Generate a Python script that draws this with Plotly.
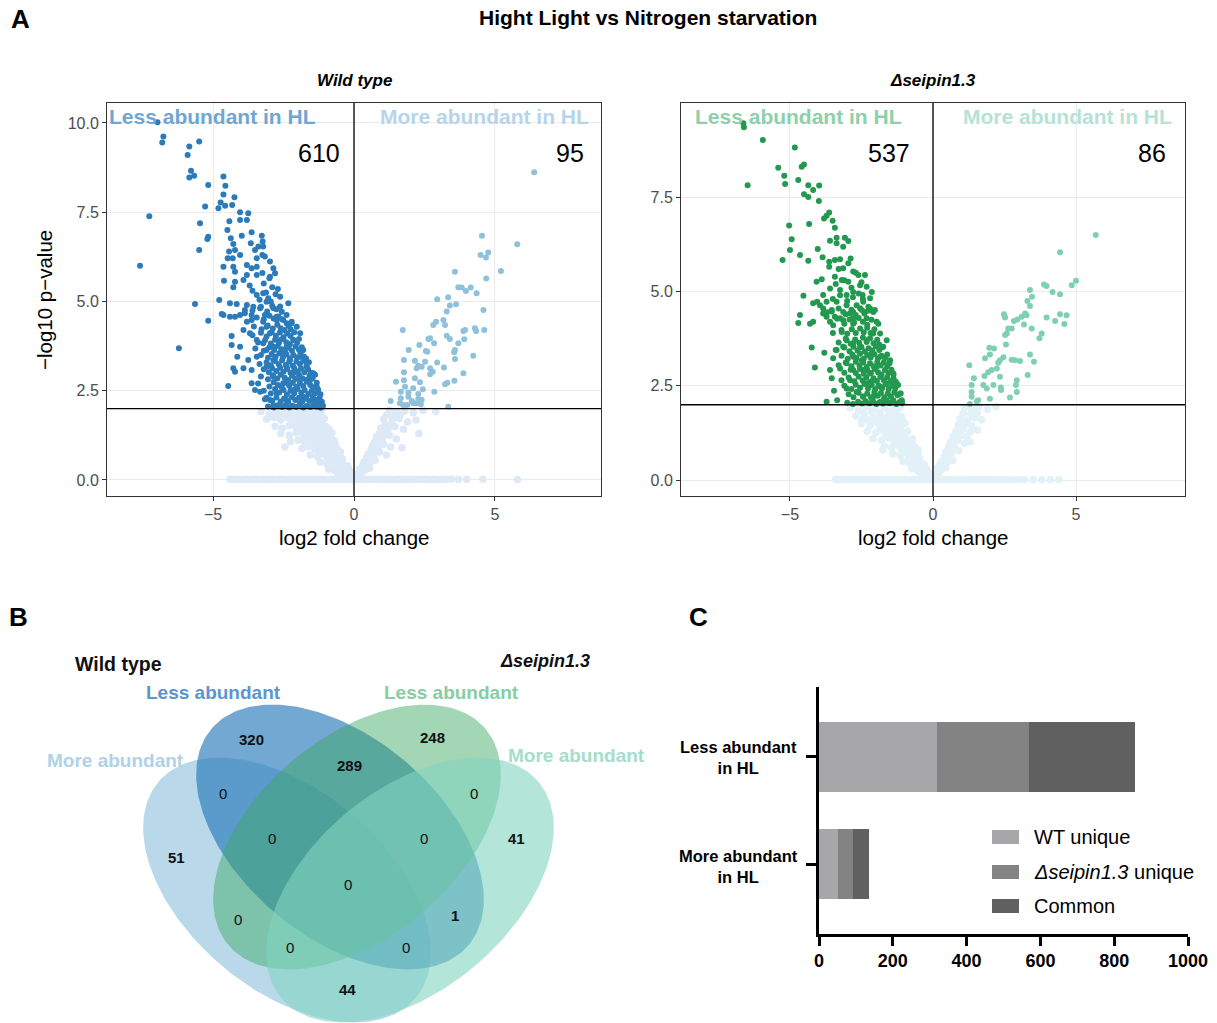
import numpy as np
import plotly.graph_objects as go

W, H = 1217, 1023
FONT = "Liberation Sans, Arial, sans-serif"

# ---------------- Panel A data ----------------
wt_down = [(-6.97,10.02),(-6.76,9.62),(-6.80,9.45),(-5.84,9.34),(-5.49,9.48),(-5.90,9.10),(-5.78,8.66),(-5.84,8.47),(-5.67,8.52),(-4.63,8.50),(-5.17,8.26),(-4.56,8.24),(-4.63,8.00),(-4.24,7.92),(-4.73,7.77),(-4.57,7.68),(-4.32,7.70),(-4.81,7.61),(-5.28,7.66),(-7.26,7.39),(-4.04,7.50),(-3.75,7.47),(-4.04,7.28),(-3.80,7.28),(-4.42,7.25),(-5.46,7.19),(-4.49,7.00),(-3.63,6.94),(-3.27,6.84),(-3.98,6.84),(-5.17,6.81),(-5.20,6.75),(-4.37,6.77),(-4.28,6.61),(-3.66,6.63),(-3.24,6.68),(-3.39,6.54),(-3.22,6.54),(-5.49,6.44),(-4.43,6.40),(-4.22,6.44),(-4.04,6.30),(-4.30,6.21),(-4.48,6.21),(-3.51,6.44),(-3.45,6.21),(-3.25,6.30),(-3.16,6.26),(-2.98,6.12),(-7.59,6.00),(-4.63,5.97),(-4.28,5.97),(-4.22,5.83),(-3.80,6.02),(-3.63,5.93),(-3.45,5.97),(-2.86,5.93),(-2.80,5.79),(-2.98,5.69),(-3.45,5.74),(-3.80,5.74),(-3.92,5.60),(-4.22,5.55),(-4.61,5.58),(-4.28,5.40),(-5.64,4.93),(-4.78,5.04),(-4.40,4.95),(-4.16,4.93),(-3.80,4.90),(-3.45,5.18),(-3.22,5.23),(-3.04,5.09),(-2.62,5.13),(-2.33,4.95),(-2.56,4.71),(-2.86,4.81),(-3.10,4.99),(-3.33,4.81),(-3.57,4.85),(-3.87,4.76),(-4.04,4.62),(-3.63,4.62),(-3.16,4.62),(-2.74,4.57),(-2.39,4.62),(-2.21,4.43),(-2.51,4.48),(-3.22,4.43),(-3.80,4.43),(-4.40,4.57),(-4.63,4.62),(-4.22,4.57),
(-5.17,4.46),(-6.21,3.69),(-4.46,2.63),(-4.69,4.65),(-3.87,4.67),(-3.63,4.48),(-4.34,4.03),(-4.34,3.78),(-4.04,3.73),(-4.14,3.45),(-4.28,3.13),(-4.22,3.03),(-3.92,3.13),(-3.75,3.36),(-3.63,2.71),(-3.51,2.52),(-3.33,2.47),(-3.16,2.26),(-3.63,3.08),(-3.45,3.45),(-3.92,4.20),(-3.69,4.11),(-3.45,3.92),(-3.22,3.83),(-2.98,4.11),(-3.10,4.29),(-2.74,4.48),(-2.39,4.39),(-2.21,4.39),(-2.03,4.29),(-1.91,4.11),(-2.15,3.92),(-2.39,3.73),(-2.62,3.55),(-2.86,3.36),(-3.10,3.17),(-2.86,2.89),(-2.51,2.71),(-2.15,2.52),(-1.80,2.33),(-1.44,2.24),(-1.21,2.15),(-1.56,2.80),(-1.32,2.61),(-1.68,3.17),(-1.91,3.45),(-1.80,3.64),(-1.44,2.99),(-2.39,3.17),(-2.15,2.99),(-2.74,2.43),(-2.98,2.24),(-2.39,2.24),(-1.91,2.15),(-2.86,2.10),(-1.32,2.05),(-1.91,2.80),(-2.27,3.36),(-2.62,3.92),(-2.86,3.73),(-3.10,3.64),
(-3.05,2.06),(-2.85,2.03),(-2.70,2.09),(-2.55,2.04),(-2.42,2.10),(-2.30,2.03),(-2.18,2.08),(-2.05,2.04),(-1.93,2.10),(-1.80,2.03),(-1.68,2.07),(-1.55,2.04),(-1.43,2.10),(-1.30,2.12),(-1.18,2.02),(-1.10,2.08),
(-3.10,2.30),(-2.90,2.22),(-2.75,2.31),(-2.60,2.20),(-2.48,2.28),(-2.33,2.19),(-2.20,2.32),(-2.08,2.24),(-1.95,2.30),(-1.83,2.20),(-1.70,2.28),(-1.58,2.21),(-1.46,2.33),(-1.35,2.24),(-1.22,2.30),(-1.14,2.19),
(-3.20,2.50),(-2.95,2.42),(-2.80,2.55),(-2.65,2.45),(-2.50,2.52),(-2.38,2.40),(-2.25,2.50),(-2.12,2.43),(-2.00,2.55),(-1.87,2.44),(-1.75,2.52),(-1.62,2.41),(-1.50,2.50),(-1.38,2.43),(-1.27,2.53),(-1.19,2.40),
(-3.40,2.70),(-3.00,2.62),(-2.85,2.74),(-2.70,2.66),(-2.56,2.60),(-2.43,2.73),(-2.30,2.64),(-2.17,2.72),(-2.04,2.61),(-1.92,2.70),(-1.80,2.63),(-1.67,2.75),(-1.55,2.66),(-1.43,2.60),(-1.32,2.72),
(-3.30,2.90),(-3.05,2.82),(-2.88,2.93),(-2.72,2.84),(-2.60,2.95),(-2.46,2.86),(-2.33,2.80),(-2.20,2.92),(-2.08,2.83),(-1.95,2.94),(-1.83,2.85),(-1.70,2.80),(-1.58,2.92),(-1.47,2.84),(-1.38,2.95),
(-3.20,3.10),(-3.02,3.02),(-2.90,3.12),(-2.75,3.05),(-2.62,3.14),(-2.50,3.03),(-2.37,3.11),(-2.25,3.00),(-2.12,3.13),(-2.00,3.04),(-1.88,3.12),(-1.76,3.02),(-1.63,3.10),(-1.52,3.00),
(-3.35,3.25),(-3.10,3.30),(-2.95,3.21),(-2.80,3.33),(-2.67,3.24),(-2.55,3.35),(-2.42,3.22),(-2.30,3.31),(-2.17,3.20),(-2.04,3.32),(-1.92,3.25),(-1.80,3.34),(-1.68,3.22),(-1.60,3.30),
(-3.30,3.50),(-3.05,3.42),(-2.92,3.53),(-2.78,3.45),(-2.65,3.55),(-2.52,3.44),(-2.40,3.52),(-2.28,3.41),(-2.15,3.50),(-2.02,3.43),(-1.90,3.54),(-1.78,3.46),(-1.70,3.40),
(-3.50,3.68),(-3.20,3.62),(-3.00,3.72),(-2.83,3.64),(-2.70,3.75),(-2.57,3.66),(-2.45,3.60),(-2.32,3.70),(-2.20,3.62),(-2.07,3.74),(-1.95,3.65),(-1.85,3.72),
(-3.40,3.85),(-3.15,3.92),(-2.95,3.82),(-2.80,3.93),(-2.66,3.84),(-2.53,3.95),(-2.40,3.86),(-2.27,3.80),(-2.15,3.92),(-2.02,3.84),(-1.95,3.95),
(-3.60,4.05),(-3.30,4.12),(-3.10,4.02),(-2.92,4.14),(-2.77,4.04),(-2.63,4.13),(-2.50,4.00),(-2.37,4.10),(-2.25,4.03),(-2.12,4.14),
(-3.55,4.30),(-3.28,4.22),(-3.06,4.33),(-2.88,4.24),(-2.72,4.35),(-2.60,4.25),(-2.47,4.20),(-2.33,4.32),(-2.25,4.22),
(-3.45,4.55),(-3.20,4.50),(-3.00,4.60),(-2.85,4.52),(-2.68,4.58),(-2.55,4.50),
(-3.60,4.75),(-3.30,4.85),(-3.08,4.72),(-2.90,4.88),(-2.75,4.78),(-2.62,4.86),
(-3.35,5.05),(-3.12,5.25),(-2.95,5.00),(-2.78,5.20),(-3.60,5.30),(-2.70,5.35),
(-3.20,5.50),(-3.00,5.65),(-3.70,5.45),(-2.90,5.40),(-3.25,5.80)]

wt_up = [(6.39,8.62),(4.54,6.84),(5.79,6.60),(4.49,6.30),(4.68,6.23),(4.76,6.37),(3.58,5.83),(5.21,5.85),(4.69,5.64),(3.70,5.40),(3.82,5.39),(3.97,5.29),(4.14,5.39),(4.35,5.23),(2.95,5.06),(3.34,5.12),(3.62,4.92),(3.40,4.89),(4.59,4.76),(3.29,4.72),(2.81,4.34),(2.91,4.43),(3.17,4.48),(3.23,4.34),(1.73,4.20),(3.94,4.20),(3.88,4.17),(4.29,4.25),(4.33,4.17),(4.62,4.20),(2.64,3.95),(2.70,3.97),(2.84,3.83),(3.29,4.04),(3.40,3.95),(2.32,3.78),(1.94,3.64),(2.55,3.61),(2.60,3.59),(3.70,3.83),(3.58,3.64),(3.55,3.58),(3.91,3.94),(4.23,3.48),(1.77,3.36),(2.16,3.34),(2.52,3.31),(2.95,3.29),(3.58,3.39),(2.28,3.20),(2.40,3.17),(2.22,3.13),(2.70,3.13),(2.79,3.03),(3.19,3.15),(1.77,3.02),(2.70,2.96),(3.88,2.99),(1.49,2.75),(1.77,2.79),(2.16,2.85),(2.34,2.74),(3.23,2.68),(3.31,2.72),(3.56,2.78),(1.66,2.47),(1.81,2.61),(2.10,2.57),(2.44,2.54),(2.85,2.47),(1.93,2.45),(2.28,2.41),(1.30,2.21),(1.66,2.29),(1.93,2.33),(2.28,2.27),(2.40,2.24),(1.63,2.15),(1.75,2.10),(2.10,2.15),(2.22,2.15),(2.37,2.12),(3.34,2.05),(1.89,2.10),(2.05,2.21)]

wt_ns = [(-3.30,1.92),(-3.00,1.85),(-2.75,1.94),(-2.50,1.87),(-2.25,1.93),(-2.00,1.86),(-1.78,1.94),(-1.55,1.88),(-1.35,1.95),(-1.15,1.90),
(-2.62,1.80),(-2.38,1.82),(-2.12,1.79),(-1.90,1.83),(-1.66,1.80),(-1.45,1.84),(-1.25,1.81),
(-3.10,1.70),(-2.85,1.75),(-2.60,1.68),(-2.35,1.74),(-2.10,1.66),(-1.88,1.73),(-1.65,1.67),(-1.45,1.74),(-1.25,1.68),(-1.05,1.72),
(-2.20,1.60),(-1.98,1.58),(-1.76,1.61),(-1.55,1.58),(-1.35,1.61),(-1.15,1.59),
(-2.80,1.50),(-2.55,1.45),(-2.30,1.52),(-2.05,1.47),(-1.82,1.53),(-1.60,1.46),(-1.40,1.52),(-1.20,1.45),(-1.00,1.50),(-0.88,1.42),
(-1.95,1.38),(-1.72,1.40),(-1.50,1.37),(-1.28,1.40),(-1.08,1.38),
(-2.60,1.30),(-2.30,1.25),(-2.05,1.32),(-1.80,1.26),(-1.58,1.33),(-1.36,1.27),(-1.15,1.30),(-0.95,1.25),(-0.78,1.32),
(-1.65,1.18),(-1.42,1.20),(-1.20,1.17),(-1.00,1.19),(-0.82,1.17),
(-2.25,1.08),(-1.98,1.12),(-1.75,1.06),(-1.52,1.13),(-1.30,1.07),(-1.10,1.12),(-0.90,1.05),(-0.70,1.10),
(-1.50,0.98),(-1.27,1.00),(-1.05,0.97),(-0.85,0.99),(-0.66,0.98),
(-2.45,0.92),(-1.85,0.88),(-1.60,0.93),(-1.38,0.86),(-1.16,0.92),(-0.95,0.86),(-0.76,0.92),(-0.60,0.87),
(-1.22,0.79),(-1.00,0.80),(-0.80,0.78),(-0.62,0.80),(-0.48,0.78),
(-1.55,0.70),(-1.30,0.66),(-1.08,0.72),(-0.88,0.67),(-0.70,0.72),(-0.52,0.66),
(-0.95,0.59),(-0.76,0.60),(-0.58,0.58),(-0.42,0.60),
(-1.20,0.50),(-0.98,0.46),(-0.78,0.52),(-0.60,0.47),(-0.42,0.52),
(-0.70,0.40),(-0.52,0.39),(-0.36,0.41),(-0.22,0.39),
(-0.90,0.30),(-0.70,0.27),(-0.52,0.32),(-0.35,0.28),(-0.20,0.32),
(-0.50,0.15),(-0.35,0.12),(-0.20,0.17),(-0.08,0.10),(-0.60,0.21),(-0.42,0.22),(-0.26,0.23),(-0.12,0.22),
(-4.40,0.02),(-4.25,0.01),(-4.10,0.02),(-3.95,0.01),(-3.80,0.02),(-3.65,0.01),(-3.50,0.02),(-3.35,0.01),(-3.20,0.02),(-3.05,0.01),(-2.90,0.02),(-2.75,0.01),(-2.60,0.02),(-2.45,0.01),(-2.30,0.02),(-2.15,0.01),(-2.00,0.02),(-1.85,0.01),(-1.70,0.02),(-1.55,0.01),(-1.40,0.02),(-1.25,0.01),(-1.10,0.02),(-0.95,0.01),(-0.80,0.02),(-0.65,0.01),(-0.50,0.02),(-0.35,0.01),(-0.20,0.02),(-0.05,0.01),(0.10,0.02),(0.25,0.01),(0.40,0.02),(0.55,0.01),(0.70,0.02),(0.85,0.01),(1.00,0.02),(1.15,0.01),(1.30,0.02),(1.45,0.01),(1.60,0.02),(1.75,0.01),(1.90,0.02),(2.05,0.01),(2.20,0.02),(2.35,0.01),(2.50,0.02),(2.65,0.01),(2.80,0.02),(2.95,0.01),(3.10,0.02),(3.25,0.01),(3.45,0.02),(3.70,0.01),(4.00,0.02),(4.57,0.02),(5.80,0.01),
(1.25,1.95),(1.50,1.90),(1.80,1.93),(2.10,1.88),(2.45,1.95),(2.90,1.92),(1.05,1.70),(1.35,1.65),(1.60,1.72),(1.90,1.62),(2.20,1.68),(0.95,1.45),(1.20,1.38),(1.45,1.50),(1.75,1.42),(0.80,1.20),(1.00,1.12),(1.25,1.25),(1.50,1.15),(0.65,0.95),(0.85,0.88),(1.05,1.00),(1.30,0.92),(0.50,0.72),(0.70,0.68),(0.90,0.78),(1.15,0.70),(0.35,0.50),(0.55,0.45),(0.75,0.55),(0.20,0.30),(0.38,0.28),(0.55,0.33),(0.10,0.15),(0.25,0.12),(2.30,1.30),(1.70,0.90),
(1.15,1.82),(1.40,1.78),(1.65,1.84),(1.10,1.55),(1.32,1.52),(0.90,1.30),(1.10,1.28),(0.72,1.05),(0.92,1.08),(0.60,0.83),(0.78,0.85),(0.45,0.62),(0.62,0.60),(0.30,0.40),(0.45,0.40)]

mut_down = [(-6.63,9.46),(-6.61,9.36),(-5.95,9.02),(-6.48,7.82),(-4.83,8.82),(-5.41,8.28),(-5.20,8.07),(-5.17,7.85),(-4.59,8.31),(-4.51,8.37),(-4.71,7.96),(-4.36,7.82),(-4.19,7.69),(-3.98,7.81),(-4.51,7.58),(-4.36,7.51),(-3.99,7.40),(-3.63,7.10),(-3.72,7.01),(-3.81,6.94),(-3.51,6.88),(-5.03,6.75),(-4.33,6.79),(-3.43,6.69),(-4.94,6.39),(-3.60,6.35),(-3.37,6.43),(-3.08,6.43),(-2.96,6.34),(-3.37,6.28),(-3.14,6.19),(-5.00,6.10),(-4.03,6.13),(-4.65,5.97),(-5.26,5.84),(-4.36,5.82),(-3.86,5.91),(-3.63,5.79),(-3.43,5.84),(-3.25,5.86),(-2.88,5.88),(-2.96,5.75),(-3.63,5.66),(-3.14,5.62),(-2.79,5.53),(-2.61,5.44),(-2.38,5.44),(-4.07,5.26),(-3.89,5.33),(-3.43,5.39),(-3.19,5.31),(-2.96,5.26),(-2.55,5.17),(-2.32,5.13),(-2.14,4.99),(-2.20,4.82),(-2.46,4.91),(-2.79,4.99),(-3.02,4.91),(-3.25,5.04),(-3.60,5.08),(-3.84,4.91),(-4.05,4.73),(-3.72,4.73),(-3.37,4.73),(-3.02,4.64),(-2.67,4.64),(-2.44,4.73),(-2.20,4.55),(-2.09,4.46),(-2.38,4.46),(-2.79,4.46),(-3.14,4.46),(-3.54,4.51),(-3.84,4.55),(-4.19,4.69),(-4.53,4.89),(-4.65,4.38),(-4.19,4.20),(-3.72,4.33),(-3.25,4.29),(-2.79,4.29),(-2.32,4.29),(-1.97,4.20),
(-4.71,4.17),(-4.30,4.15),(-4.24,3.52),(-4.13,2.99),(-3.80,3.38),(-3.95,4.64),(-3.84,4.42),(-3.54,4.47),(-3.43,4.33),(-3.49,4.11),(-3.14,4.24),(-3.19,3.93),(-2.79,4.15),(-2.90,4.42),(-2.49,4.51),(-2.26,4.60),(-2.03,4.51),(-1.91,4.15),(-2.09,3.89),(-2.32,3.71),(-2.55,3.54),(-2.79,3.63),(-3.02,3.71),(-3.37,3.45),(-3.49,3.23),(-3.60,2.92),(-3.54,2.70),(-3.46,2.37),(-3.35,2.12),(-3.72,2.08),(-3.25,2.96),(-3.02,3.10),(-2.79,2.92),(-2.90,2.65),(-3.02,2.43),(-2.67,2.34),(-2.44,2.21),(-2.32,2.56),(-2.20,2.83),(-1.97,3.01),(-1.85,3.27),(-1.74,3.54),(-1.62,3.71),(-1.85,3.89),(-1.50,3.18),(-1.39,2.83),(-1.27,2.56),(-1.15,2.30),(-1.09,2.12),(-1.39,2.12),(-1.74,2.12),(-2.09,2.21),(-1.85,2.48),(-1.62,2.56),(-2.14,3.36),(-2.49,3.18),(-2.79,3.27),(-3.14,3.54),(-1.62,2.12),(-2.44,2.92),(-2.09,2.65),
(-3.00,2.05),(-2.80,2.02),(-2.62,2.08),(-2.48,2.03),(-2.35,2.09),(-2.22,2.04),(-2.10,2.10),(-1.98,2.02),(-1.86,2.07),(-1.75,2.03),(-1.63,2.10),(-1.52,2.04),(-1.40,2.08),(-1.28,2.02),(-1.17,2.07),(-1.08,2.04),
(-2.95,2.28),(-2.78,2.20),(-2.60,2.32),(-2.45,2.22),(-2.30,2.30),(-2.17,2.20),(-2.05,2.33),(-1.93,2.24),(-1.82,2.31),(-1.70,2.20),(-1.58,2.30),(-1.47,2.22),(-1.35,2.33),(-1.24,2.25),(-1.13,2.30),
(-3.10,2.50),(-2.85,2.42),(-2.70,2.53),(-2.55,2.45),(-2.40,2.55),(-2.27,2.43),(-2.14,2.52),(-2.02,2.41),(-1.90,2.50),(-1.78,2.44),(-1.66,2.54),(-1.55,2.42),(-1.43,2.50),(-1.32,2.43),(-1.22,2.52),
(-3.20,2.65),(-2.95,2.72),(-2.75,2.62),(-2.60,2.74),(-2.46,2.64),(-2.33,2.72),(-2.20,2.60),(-2.08,2.70),(-1.96,2.63),(-1.84,2.74),(-1.72,2.65),(-1.60,2.73),(-1.48,2.62),(-1.38,2.70),(-1.30,2.61),
(-3.10,2.85),(-2.88,2.93),(-2.70,2.84),(-2.55,2.95),(-2.42,2.82),(-2.30,2.92),(-2.17,2.84),(-2.04,2.95),(-1.92,2.86),(-1.80,2.80),(-1.68,2.92),(-1.56,2.84),(-1.45,2.93),(-1.38,2.80),
(-3.30,3.05),(-3.05,3.12),(-2.85,3.02),(-2.70,3.14),(-2.57,3.04),(-2.44,3.12),(-2.32,3.00),(-2.20,3.10),(-2.08,3.02),(-1.95,3.13),(-1.83,3.04),(-1.72,3.12),(-1.60,3.02),(-1.52,3.10),
(-3.20,3.30),(-2.98,3.22),(-2.82,3.33),(-2.68,3.24),(-2.55,3.35),(-2.42,3.22),(-2.30,3.32),(-2.18,3.25),(-2.05,3.34),(-1.93,3.22),(-1.80,3.30),(-1.68,3.24),(-1.60,3.33),
(-3.40,3.45),(-3.10,3.52),(-2.92,3.42),(-2.78,3.54),(-2.64,3.44),(-2.50,3.53),(-2.38,3.41),(-2.25,3.50),(-2.12,3.44),(-2.00,3.55),(-1.88,3.45),(-1.78,3.52),
(-3.30,3.65),(-3.05,3.75),(-2.88,3.62),(-2.72,3.73),(-2.58,3.64),(-2.45,3.78),(-2.32,3.66),(-2.20,3.76),(-2.08,3.63),(-1.95,3.72),(-1.88,3.60),
(-3.50,3.90),(-3.20,3.98),(-3.00,3.88),(-2.84,4.00),(-2.70,3.90),(-2.55,4.02),(-2.42,3.92),(-2.30,4.04),(-2.18,3.90),(-2.05,4.00),
(-3.60,4.20),(-3.35,4.28),(-3.10,4.15),(-2.92,4.26),(-2.76,4.18),(-2.60,4.30),(-2.45,4.20),(-2.30,4.12),(-2.15,4.25),
(-3.70,4.45),(-3.30,4.55),(-3.05,4.40),(-2.85,4.52),(-2.70,4.38),(-2.55,4.56),(-2.40,4.42),(-2.25,4.50),
(-3.50,4.80),(-3.25,4.90),(-3.00,4.75),(-2.80,4.85),(-2.60,4.95),(-2.45,4.80),
(-3.40,5.20),(-3.10,5.30),(-2.85,5.10),(-2.70,5.50),(-3.30,5.60),(-2.50,5.25)]

mut_up = [(5.69,6.50),(4.44,6.04),(5.00,5.29),(4.85,5.17),(3.88,5.19),(3.97,5.15),(3.39,5.04),(4.18,4.99),(4.44,4.93),(3.46,4.86),(3.30,4.75),(3.39,4.62),(2.48,4.40),(2.52,4.31),(2.83,4.22),(2.95,4.26),(3.10,4.33),(3.22,4.42),(3.27,4.37),(3.18,4.13),(3.45,4.02),(3.97,4.31),(4.27,4.22),(4.44,4.40),(4.67,4.37),(4.59,4.14),(2.63,4.02),(2.75,4.02),(2.58,3.89),(2.52,3.85),(3.80,3.89),(3.72,3.76),(2.55,3.60),(1.97,3.51),(2.13,3.49),(1.99,3.33),(3.39,3.33),(1.82,3.23),(2.34,3.18),(2.46,3.26),(2.75,3.19),(2.87,3.18),(3.04,3.16),(3.53,3.14),(2.28,3.11),(1.27,3.05),(1.43,2.70),(1.80,2.76),(1.93,2.86),(2.05,2.92),(2.23,2.96),(2.34,2.74),(2.93,2.65),(3.31,2.79),(1.76,2.52),(1.88,2.43),(2.11,2.52),(2.37,2.46),(2.69,2.19),(2.90,2.52),(2.93,2.34),(1.35,2.52),(1.35,2.34),(1.35,2.21),(1.58,2.12),(1.99,2.16),(1.29,2.02),(1.53,2.09),(2.38,2.39)]

mut_ns = [(-2.90,1.92),(-2.60,1.86),(-2.30,1.94),(-2.00,1.87),(-1.70,1.93),(-1.40,1.86),(-1.15,1.92),
(-2.45,1.80),(-2.15,1.82),(-1.85,1.79),(-1.55,1.81),(-1.28,1.80),
(-2.70,1.70),(-2.40,1.74),(-2.10,1.67),(-1.85,1.73),(-1.60,1.66),(-1.35,1.72),(-1.10,1.68),
(-2.30,1.60),(-2.05,1.58),(-1.80,1.61),(-1.55,1.58),(-1.30,1.60),(-1.08,1.59),
(-2.50,1.50),(-2.20,1.45),(-1.95,1.52),(-1.70,1.47),(-1.45,1.53),(-1.20,1.46),(-0.98,1.50),
(-1.85,1.39),(-1.60,1.40),(-1.36,1.38),(-1.14,1.40),
(-2.30,1.30),(-2.00,1.26),(-1.75,1.32),(-1.50,1.27),(-1.28,1.33),(-1.05,1.26),(-0.88,1.30),
(-1.65,1.19),(-1.42,1.20),(-1.20,1.18),(-0.98,1.20),
(-2.10,1.10),(-1.80,1.06),(-1.55,1.12),(-1.32,1.07),(-1.10,1.12),(-0.90,1.06),(-0.72,1.10),
(-1.35,0.98),(-1.12,1.00),(-0.90,0.97),(-0.72,0.99),
(-1.70,0.90),(-1.45,0.86),(-1.22,0.92),(-1.00,0.87),(-0.80,0.92),(-0.62,0.86),
(-1.10,0.79),(-0.88,0.80),(-0.68,0.78),(-0.52,0.80),
(-1.40,0.70),(-1.15,0.66),(-0.95,0.72),(-0.75,0.67),(-0.55,0.72),
(-0.85,0.59),(-0.66,0.60),(-0.48,0.58),
(-1.05,0.50),(-0.85,0.46),(-0.65,0.52),(-0.45,0.47),
(-0.62,0.40),(-0.46,0.39),(-0.30,0.41),
(-0.75,0.30),(-0.55,0.27),(-0.38,0.32),(-0.22,0.28),
(-0.40,0.15),(-0.25,0.12),(-0.10,0.16),(-0.48,0.21),(-0.32,0.22),(-0.16,0.22),
(-2.50,1.60),(-1.75,0.80),
(-3.40,0.02),(-3.25,0.01),(-3.10,0.02),(-2.95,0.01),(-2.80,0.02),(-2.65,0.01),(-2.50,0.02),(-2.35,0.01),(-2.20,0.02),(-2.05,0.01),(-1.90,0.02),(-1.75,0.01),(-1.60,0.02),(-1.45,0.01),(-1.30,0.02),(-1.15,0.01),(-1.00,0.02),(-0.85,0.01),(-0.70,0.02),(-0.55,0.01),(-0.40,0.02),(-0.25,0.01),(-0.10,0.02),(0.05,0.01),(0.20,0.02),(0.35,0.01),(0.50,0.02),(0.65,0.01),(0.80,0.02),(0.95,0.01),(1.10,0.02),(1.25,0.01),(1.40,0.02),(1.55,0.01),(1.70,0.02),(1.85,0.01),(2.00,0.02),(2.15,0.01),(2.30,0.02),(2.45,0.01),(2.60,0.02),(2.80,0.01),(3.00,0.02),(3.20,0.01),(3.50,0.02),(3.80,0.01),(4.10,0.02),(4.40,0.01),
(1.10,1.92),(1.35,1.86),(1.60,1.93),(1.90,1.88),(2.20,1.95),(0.95,1.62),(1.20,1.58),(1.45,1.65),(1.70,1.60),(0.80,1.30),(1.05,1.35),(1.30,1.28),(1.55,1.33),(0.60,1.00),(0.85,1.05),(1.10,0.98),(1.30,1.02),(0.45,0.75),(0.65,0.72),(0.90,0.78),(0.30,0.50),(0.50,0.48),(0.70,0.53),(0.12,0.30),(0.30,0.28),(0.45,0.33),(0.06,0.15),(0.20,0.13),
(1.05,1.76),(1.30,1.74),(1.55,1.78),(0.88,1.46),(1.12,1.47),(1.35,1.45),(0.70,1.16),(0.95,1.18),(1.18,1.15),(0.55,0.88),(0.75,0.90),(0.40,0.62),(0.58,0.61),(0.22,0.40),(0.38,0.40)]

wt_n_down, wt_n_up = 610, 95
mut_n_down, mut_n_up = 537, 86
volc_xticks = [-5, 0, 5]
volc_xtick_text = ["\u22125", "0", "5"]
wt_yticks = [0, 2.5, 5, 7.5, 10]
wt_ytick_text = ["0.0", "2.5", "5.0", "7.5", "10.0"]
mut_yticks = [0, 2.5, 5, 7.5]
mut_ytick_text = ["0.0", "2.5", "5.0", "7.5"]
pval_threshold = 2

# ---------------- Panel B data ----------------
venn_counts = [320, 248, 289, 0, 0, 51, 0, 0, 41, 0, 0, 1, 0, 0, 44]

# ---------------- Panel C data ----------------
bar_categories = ["More abundant in HL", "Less abundant in HL"]
bar_labels = ["More abundant<br>in HL", "Less abundant<br>in HL"]
wt_unique = [51, 320]
mut_unique = [41, 248]
common = [44, 289]
bar_xticks = [0, 200, 400, 600, 800, 1000]

# ---------------- colours ----------------
C_WT_DOWN = "#2b7bba"
C_WT_UP = "#8fc0dc"
C_WT_NS = "#dde9f6"
C_MUT_DOWN = "#23994f"
C_MUT_UP = "#7fcfb6"
C_MUT_NS = "#e1f1f7"

fig = go.Figure()


def px_x(p):
    return p / W


def px_y(p):
    return 1 - p / H


def split(lst):
    return [p[0] for p in lst], [p[1] for p in lst]


def add_pts(lst, color, xa, ya, size=6):
    xs, ys = split(lst)
    fig.add_trace(go.Scatter(x=xs, y=ys, mode="markers", xaxis=xa, yaxis=ya,
                             marker=dict(size=size, color=color, line=dict(width=0)),
                             hoverinfo="skip", showlegend=False))


add_pts(wt_ns, C_WT_NS, "x", "y", 7.5)
add_pts(wt_down, C_WT_DOWN, "x", "y")
add_pts(wt_up, C_WT_UP, "x", "y")
add_pts(mut_ns, C_MUT_NS, "x2", "y2", 7.5)
add_pts(mut_down, C_MUT_DOWN, "x2", "y2")
add_pts(mut_up, C_MUT_UP, "x2", "y2")

# ---------------- Venn ellipses (geometry only) ----------------
def ellipse(cx, cy, a, b, deg, n=240):
    t = np.linspace(0, 2 * np.pi, n)
    th = np.deg2rad(deg)
    x = cx + a * np.cos(t) * np.cos(th) - b * np.sin(t) * np.sin(th)
    y = cy + a * np.cos(t) * np.sin(th) + b * np.sin(t) * np.cos(th)
    return x, y

EA, EB, ETH = 168, 100, 40
venn_sets = [
    (287, 890, ETH, "rgba(142,193,221,0.62)"),   # WT more
    (340, 837, ETH, "rgba(43,123,186,0.66)"),    # WT less
    (357, 837, -ETH, "rgba(60,170,100,0.48)"),   # mut less
    (410, 890, -ETH, "rgba(130,212,192,0.60)"),  # mut more
]
for cx, cy, th, col in venn_sets:
    ex, ey = ellipse(cx, cy, EA, EB, th)
    fig.add_trace(go.Scatter(x=ex, y=ey, mode="lines", fill="toself", fillcolor=col,
                             line=dict(width=0, color=col), xaxis="x3", yaxis="y3",
                             hoverinfo="skip", showlegend=False))

# ---------------- Panel C bars ----------------
bar_colors = ["#a7a7aa", "#838384", "#606060"]
for vals, col, nm in [(wt_unique, bar_colors[0], "WT unique"),
                      (mut_unique, bar_colors[1], "seipin unique"),
                      (common, bar_colors[2], "Common")]:
    fig.add_trace(go.Bar(x=vals, y=bar_categories, orientation="h", marker=dict(color=col, line=dict(width=0)),
                         width=0.654, xaxis="x4", yaxis="y4", name=nm, showlegend=False, hoverinfo="skip"))

# ---------------- layout ----------------
volc_common = dict(showgrid=True, gridcolor="#ebebeb", gridwidth=1.1, zeroline=False,
                   showline=True, mirror=True, linecolor="#333333", linewidth=1,
                   ticks="outside", ticklen=4, tickcolor="#333333", automargin=False,
                   tickfont=dict(size=16, color="#4d4d4d", family=FONT))

fig.update_layout(
    template="none",
    width=W, height=H, autosize=False, margin=dict(l=0, r=0, t=0, b=0, pad=0, autoexpand=False),
    paper_bgcolor="white", plot_bgcolor="white", barmode="stack", showlegend=False,
    font=dict(family=FONT),
    xaxis=dict(domain=[px_x(107), px_x(601)], range=[-8.76, 8.76], tickvals=volc_xticks,
               ticktext=volc_xtick_text, anchor="y", **volc_common),
    yaxis=dict(domain=[px_y(496), px_y(103)], range=[-0.45, 10.56], tickvals=wt_yticks,
               ticktext=wt_ytick_text, anchor="x", **volc_common),
    xaxis2=dict(domain=[px_x(681), px_x(1185)], range=[-8.81, 8.81], tickvals=volc_xticks,
                ticktext=volc_xtick_text, anchor="y2", **volc_common),
    yaxis2=dict(domain=[px_y(496), px_y(103)], range=[-0.42, 10.0], tickvals=mut_yticks,
                ticktext=mut_ytick_text, anchor="x2", **volc_common),
    xaxis3=dict(domain=[0, px_x(660)], range=[0, 660], visible=False, anchor="y3", automargin=False),
    yaxis3=dict(domain=[0, px_y(600)], range=[1023, 600], visible=False, anchor="x3", automargin=False),
    xaxis4=dict(domain=[px_x(819), px_x(1188)], range=[0, 1000], tickvals=bar_xticks,
                showline=True, linecolor="black", linewidth=2.6, ticks="outside", ticklen=9,
                tickwidth=2.6, tickcolor="black", showgrid=False, zeroline=False, automargin=False,
                tickfont=dict(size=18, color="black", family=FONT, weight="bold"), anchor="y4"),
    yaxis4=dict(domain=[px_y(934), px_y(687)], range=[-0.654, 1.654], type="category",
                categoryorder="array", categoryarray=bar_categories,
                showline=True, linecolor="black", linewidth=2.6, ticks="outside", ticklen=10,
                tickwidth=2.6, tickcolor="black", showgrid=False, zeroline=False, automargin=False,
                showticklabels=False, anchor="x4"),
)

# threshold lines
for xa, ya in [("x", "y"), ("x2", "y2")]:
    fig.add_shape(type="line", xref=xa, yref=ya + " domain", x0=0, x1=0, y0=0, y1=1,
                  line=dict(color="black", width=1.3))
    fig.add_shape(type="line", xref=xa + " domain", yref=ya, x0=0, x1=1,
                  y0=pval_threshold, y1=pval_threshold, line=dict(color="black", width=1.3))


def txt(x, y, text, size, color="black", xanchor="center", bold=False, italic=False, angle=0):
    fig.add_annotation(x=px_x(x), y=px_y(y), xref="paper", yref="paper", text=text,
                       showarrow=False, xanchor=xanchor, yanchor="middle", textangle=angle,
                       borderpad=0,
                       font=dict(size=size, color=color, family=FONT,
                                 weight="bold" if bold else "normal",
                                 style="italic" if italic else "normal"))

# Panel A texts
txt(20, 19, "A", 26, bold=True)
txt(648, 18, "Hight Light vs Nitrogen starvation", 21, bold=True)
txt(354, 80, "Wild type", 17, bold=True, italic=True)
txt(933, 80, "\u0394seipin1.3", 17, bold=True, italic=True)
txt(108, 116, "Less abundant in HL", 21, color="#70a6d3", xanchor="left", bold=True)
txt(590, 116, "More abundant in HL", 21, color="#b5d5ea", xanchor="right", bold=True)
txt(694, 116, "Less abundant in HL", 21, color="#8dd0aa", xanchor="left", bold=True)
txt(1173, 116, "More abundant in HL", 21, color="#b4e3d5", xanchor="right", bold=True)
txt(341, 153, str(wt_n_down), 25, xanchor="right")
txt(585, 153, str(wt_n_up), 25, xanchor="right")
txt(911, 153, str(mut_n_down), 25, xanchor="right")
txt(1167, 153, str(mut_n_up), 25, xanchor="right")
txt(354, 537, "log2 fold change", 20.5)
txt(933, 537, "log2 fold change", 20.5)
txt(45, 300, "\u2212log10 p\u2212value", 20.5, angle=-90)

# Panel B texts
txt(18, 617, "B", 26, bold=True)
txt(118, 664, "Wild type", 19.5, color="#111111", bold=True)
txt(545, 661, "\u0394seipin1.3", 18, color="#111111", bold=True, italic=True)
txt(213, 692, "Less abundant", 19, color="#5c95cf", bold=True)
txt(451, 692, "Less abundant", 19, color="#86cea2", bold=True)
txt(116, 760, "More abundant", 19, color="#aed2e7", bold=True)
txt(576, 755, "More abundant", 19, color="#a5ddcb", bold=True)
venn_pos = [(251, 739), (432, 737), (349, 765), (223, 793), (474, 793), (176, 857), (272, 838),
            (424, 838), (516, 838), (348, 884), (238, 919), (455, 915), (290, 947), (406, 947), (347, 989)]
for (vx, vy), c in zip(venn_pos, venn_counts):
    txt(vx, vy, str(c), 15, color="#111111", bold=(c != 0))

# Panel C texts
txt(698, 617, "C", 26, bold=True)
for lab, yy in zip(bar_labels, [866, 757]):
    txt(738, yy, lab, 16.5, bold=True)
leg_items = [("WT unique", bar_colors[0], 837), ("<i>\u0394seipin1.3</i> unique", bar_colors[1], 872),
             ("Common", bar_colors[2], 906)]
for lab, col, yy in leg_items:
    fig.add_shape(type="rect", xref="paper", yref="paper", x0=px_x(992), x1=px_x(1019),
                  y0=px_y(yy + 7), y1=px_y(yy - 7), fillcolor=col, line=dict(width=0))
    txt(1033, yy, lab, 20, xanchor="left")

fig.write_html("out.html", config={"displayModeBar": False, "responsive": False},
               post_script="document.body.style.margin='0px';document.documentElement.style.overflow='hidden';")
